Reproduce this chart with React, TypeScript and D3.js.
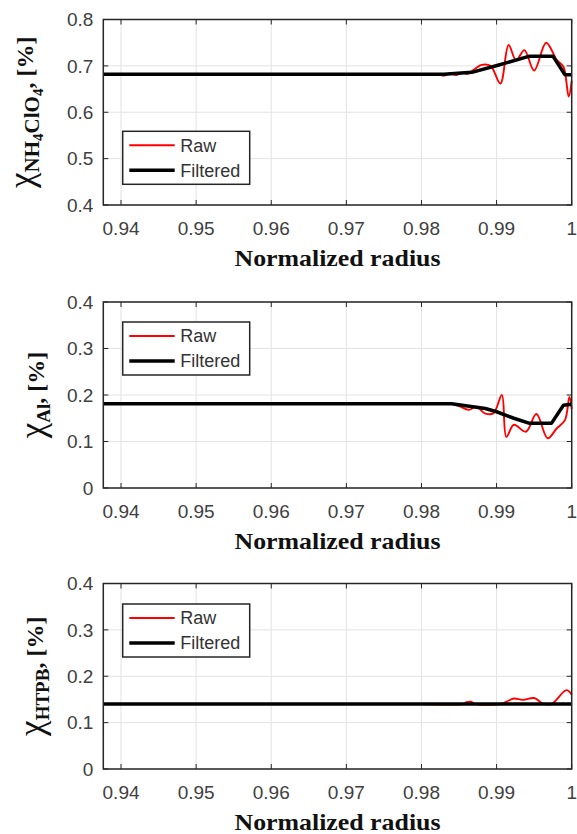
import React from "react";
import * as d3 from "d3";

// ---------- data ----------
const xDomain = [0.93764, 1.0];
const xTicks = [0.94, 0.95, 0.96, 0.97, 0.98, 0.99, 1.0];
const xTickLabels = ["0.94", "0.95", "0.96", "0.97", "0.98", "0.99", "1"];

const yTicksTop = [0.4, 0.5, 0.6, 0.7, 0.8];
const yTickLabelsTop = ["0.4", "0.5", "0.6", "0.7", "0.8"];
const yTicksLow = [0, 0.1, 0.2, 0.3, 0.4];
const yTickLabelsLow = ["0", "0.1", "0.2", "0.3", "0.4"];

const legendLabels = ["Raw", "Filtered"];
const xAxisTitle = "Normalized radius";

// NH4ClO4
const rawX_NH4 = [0.9376, 0.955, 0.97, 0.979, 0.9822, 0.983, 0.9838, 0.9846, 0.9854, 0.9862, 0.987, 0.988, 0.9892, 0.9905, 0.9916, 0.9926, 0.9937, 0.995, 0.9966, 0.998, 0.9989, 0.9996, 1.0];
const rawY_NH4 = [0.682, 0.682, 0.682, 0.682, 0.682, 0.679, 0.684, 0.68, 0.685, 0.683, 0.692, 0.702, 0.7, 0.662, 0.745, 0.712, 0.734, 0.69, 0.75, 0.713, 0.698, 0.634, 0.668];
const filtX_NH4 = [0.9376, 0.983, 0.9867, 0.9903, 0.9944, 0.9975, 0.9991, 1.0];
const filtY_NH4 = [0.682, 0.682, 0.686, 0.702, 0.721, 0.721, 0.681, 0.681];

// Al
const rawX_Al = [0.9376, 0.955, 0.97, 0.98, 0.984, 0.985, 0.9863, 0.9873, 0.9885, 0.9896, 0.9907, 0.9913, 0.9923, 0.9939, 0.9953, 0.9968, 0.998, 0.9991, 0.9997, 1.0];
const rawY_Al = [0.181, 0.181, 0.181, 0.181, 0.181, 0.176, 0.168, 0.175, 0.16, 0.161, 0.2, 0.11, 0.136, 0.121, 0.159, 0.107, 0.128, 0.146, 0.196, 0.17];
const filtX_Al = [0.9376, 0.984, 0.9885, 0.99, 0.9923, 0.9944, 0.9973, 0.9989, 1.0];
const filtY_Al = [0.181, 0.181, 0.171, 0.164, 0.15, 0.139, 0.139, 0.178, 0.18];

// HTPB
const rawX_HTPB = [0.9376, 0.955, 0.97, 0.98, 0.9855, 0.986, 0.9866, 0.9872, 0.9905, 0.9913, 0.9923, 0.9935, 0.995, 0.9962, 0.9973, 0.9993, 1.0];
const rawY_HTPB = [0.14, 0.14, 0.14, 0.14, 0.14, 0.144, 0.145, 0.14, 0.14, 0.145, 0.152, 0.149, 0.153, 0.141, 0.14, 0.17, 0.16];
const filtX_HTPB = [0.9376, 1.0];
const filtY_HTPB = [0.14, 0.14];

// ---------- layout ----------
const W = 577;
const H = 834;
const left = 103.3;
const right = 571.7;
const tickFont = "'Liberation Sans', Arial, sans-serif";
const serif = "'Liberation Serif', 'Times New Roman', serif";
const axisColor = "#262626";
const gridColor = "#e3e3e3";

type PanelProps = {
  top: number;
  bottom: number;
  yDomain: number[];
  yTicks: number[];
  yTickLabels: string[];
  rawX: number[];
  rawY: number[];
  filtX: number[];
  filtY: number[];
  legendTop: number;
  label: React.ReactNode;
  labelX: number;
};

function Panel(p: PanelProps) {
  const x = d3.scaleLinear().domain(xDomain).range([left, right]);
  const y = d3.scaleLinear().domain(p.yDomain).range([p.bottom, p.top]);
  const rawLine = d3
    .line<number>()
    .x((_, i) => x(p.rawX[i]))
    .y((d) => y(d))
    .curve(d3.curveCatmullRom.alpha(0.5));
  const filtLine = d3
    .line<number>()
    .x((_, i) => x(p.filtX[i]))
    .y((d) => y(d));
  const tl = 5;
  const lg = { x: 122.7, y: p.legendTop, w: 127, h: 53 };
  const cy = (p.top + p.bottom) / 2;
  return (
    <g>
      {xTicks.map((t, i) => (
        <line key={"gx" + i} x1={x(t)} x2={x(t)} y1={p.top} y2={p.bottom} stroke={gridColor} strokeWidth={1} />
      ))}
      {p.yTicks.map((t, i) => (
        <line key={"gy" + i} x1={left} x2={right} y1={y(t)} y2={y(t)} stroke={gridColor} strokeWidth={1} />
      ))}
      <path d={rawLine(p.rawY) || ""} fill="none" stroke="#ff0000" strokeWidth={1.9} />
      <path d={filtLine(p.filtY) || ""} fill="none" stroke="#000" strokeWidth={3.5} strokeLinejoin="round" />
      {xTicks.map((t, i) => (
        <g key={"tx" + i}>
          <line x1={x(t)} x2={x(t)} y1={p.bottom} y2={p.bottom - tl} stroke={axisColor} strokeWidth={1} />
          <line x1={x(t)} x2={x(t)} y1={p.top} y2={p.top + tl} stroke={axisColor} strokeWidth={1} />
          <text x={x(t)} y={p.bottom + 30} textAnchor="middle" fontFamily={tickFont} fontSize={19} fill="#404040">
            {xTickLabels[i]}
          </text>
        </g>
      ))}
      {p.yTicks.map((t, i) => (
        <g key={"ty" + i}>
          <line x1={left} x2={left + tl} y1={y(t)} y2={y(t)} stroke={axisColor} strokeWidth={1} />
          <line x1={right} x2={right - tl} y1={y(t)} y2={y(t)} stroke={axisColor} strokeWidth={1} />
          <text x={left - 10} y={y(t)} dy="0.36em" textAnchor="end" fontFamily={tickFont} fontSize={19} fill="#404040">
            {p.yTickLabels[i]}
          </text>
        </g>
      ))}
      <rect x={left} y={p.top} width={right - left} height={p.bottom - p.top} fill="none" stroke={axisColor} strokeWidth={1.5} />
      <rect x={lg.x} y={lg.y} width={lg.w} height={lg.h} fill="#fff" stroke={axisColor} strokeWidth={1.5} />
      <line x1={lg.x + 6.6} x2={lg.x + 52} y1={lg.y + 14} y2={lg.y + 14} stroke="#ff0000" strokeWidth={1.9} />
      <line x1={lg.x + 6.6} x2={lg.x + 52} y1={lg.y + 39} y2={lg.y + 39} stroke="#000" strokeWidth={3.5} />
      <text x={lg.x + 57.5} y={lg.y + 14} dy="0.36em" fontFamily={tickFont} fontSize={18} fill="#333">
        {legendLabels[0]}
      </text>
      <text x={lg.x + 57.5} y={lg.y + 39} dy="0.36em" fontFamily={tickFont} fontSize={18} fill="#333">
        {legendLabels[1]}
      </text>
      <text
        x={(left + right) / 2}
        y={p.bottom + 61}
        textAnchor="middle"
        fontFamily={serif}
        fontWeight="bold"
        fontSize={24}
        textLength={206}
        lengthAdjust="spacingAndGlyphs"
        fill="#111"
      >
        {xAxisTitle}
      </text>
      <text transform={`translate(${p.labelX},${cy}) rotate(-90)`} textAnchor="middle" fontFamily={serif} fill="#111">
        {p.label}
      </text>
    </g>
  );
}

export default function App() {
  const labelNH4 = (
    <>
      <tspan fontSize={35}>χ</tspan>
      <tspan fontSize={21} fontWeight="bold" dy={6}>NH</tspan>
      <tspan fontSize={15} fontWeight="bold" dy={4}>4</tspan>
      <tspan fontSize={21} fontWeight="bold" dy={-4}>ClO</tspan>
      <tspan fontSize={15} fontWeight="bold" dy={4}>4</tspan>
      <tspan fontSize={24} fontWeight="bold" dy={-10}>, [%]</tspan>
    </>
  );
  const labelAl = (
    <>
      <tspan fontSize={35}>χ</tspan>
      <tspan fontSize={19} fontWeight="bold" dy={6}>Al</tspan>
      <tspan fontSize={24} fontWeight="bold" dy={-6}>, [%]</tspan>
    </>
  );
  const labelHTPB = (
    <>
      <tspan fontSize={35}>χ</tspan>
      <tspan fontSize={19} fontWeight="bold" dy={6}>HTPB</tspan>
      <tspan fontSize={24} fontWeight="bold" dy={-6}>, [%]</tspan>
    </>
  );
  return (
    <svg width={W} height={H} style={{ position: "absolute", left: 0, top: 0, background: "#fff" }}>
      <rect width={W} height={H} fill="#fff" />
      <Panel
        top={19.5}
        bottom={205}
        yDomain={[0.4, 0.8]}
        yTicks={yTicksTop}
        yTickLabels={yTickLabelsTop}
        rawX={rawX_NH4}
        rawY={rawY_NH4}
        filtX={filtX_NH4}
        filtY={filtY_NH4}
        legendTop={131.3}
        label={labelNH4}
        labelX={33}
      />
      <Panel
        top={302}
        bottom={488}
        yDomain={[0, 0.4]}
        yTicks={yTicksLow}
        yTickLabels={yTickLabelsLow}
        rawX={rawX_Al}
        rawY={rawY_Al}
        filtX={filtX_Al}
        filtY={filtY_Al}
        legendTop={322}
        label={labelAl}
        labelX={44}
      />
      <Panel
        top={583.5}
        bottom={769}
        yDomain={[0, 0.4]}
        yTicks={yTicksLow}
        yTickLabels={yTickLabelsLow}
        rawX={rawX_HTPB}
        rawY={rawY_HTPB}
        filtX={filtX_HTPB}
        filtY={filtY_HTPB}
        legendTop={604}
        label={labelHTPB}
        labelX={43}
      />
    </svg>
  );
}
